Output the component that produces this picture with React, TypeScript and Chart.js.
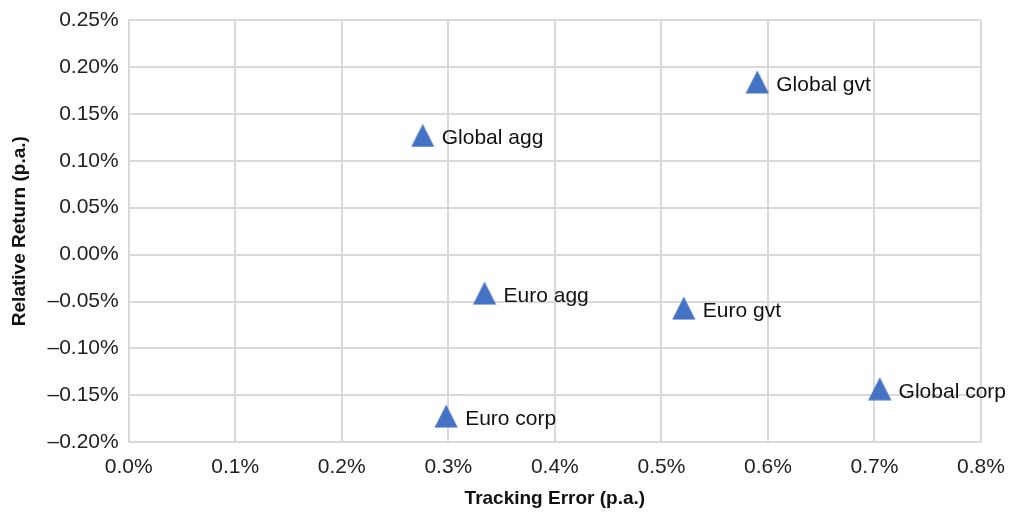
import React, { useEffect, useRef } from "react";
import { Chart, registerables } from "chart.js";

Chart.register(...registerables);

const names = ["Global gvt", "Global agg", "Euro agg", "Euro gvt", "Euro corp", "Global corp"];
const trackingError = [0.59, 0.276, 0.334, 0.521, 0.298, 0.705];
const relativeReturn = [0.184, 0.127, -0.041, -0.057, -0.172, -0.143];
const xTickValues = [0, 0.1, 0.2, 0.3, 0.4, 0.5, 0.6, 0.7, 0.8];
const yTickValues = [-0.2, -0.15, -0.1, -0.05, 0, 0.05, 0.1, 0.15, 0.2, 0.25];

const BLUE = "#4472C4";
const GRID = "#d9d9d9";
const FONT = "'Liberation Sans', Arial, sans-serif";

function makeTriangle(): HTMLCanvasElement {
  const c = document.createElement("canvas");
  c.width = 24;
  c.height = 24;
  const ctx = c.getContext("2d")!;
  ctx.fillStyle = BLUE;
  ctx.beginPath();
  ctx.moveTo(12, 0.5);
  ctx.lineTo(23.6, 23.6);
  ctx.lineTo(0.4, 23.6);
  ctx.closePath();
  ctx.fill();
  return c;
}

const fmtY = (v: number) => {
  const s = Math.abs(v).toFixed(2) + "%";
  return v < -1e-9 ? "\u2013" + s : s;
};

const labelPlugin = {
  id: "pointLabels",
  afterDatasetsDraw(chart: any) {
    const ctx = chart.ctx;
    const meta = chart.getDatasetMeta(0);
    ctx.save();
    ctx.font = `21px ${FONT}`;
    ctx.fillStyle = "#111";
    ctx.textBaseline = "middle";
    ctx.textAlign = "left";
    meta.data.forEach((pt: any, i: number) => {
      const text = names[i];
      const w = ctx.measureText(text).width;
      let x = pt.x + 19;
      if (x + w > chart.width - 4) x = chart.width - 4 - w;
      ctx.fillText(text, x, pt.y + 3);
    });
    ctx.restore();
  },
};

export default function App() {
  const ref = useRef<HTMLCanvasElement | null>(null);
  useEffect(() => {
    if (!ref.current) return;
    const tri = makeTriangle();
    const chart = new Chart(ref.current, {
      type: "scatter",
      data: {
        datasets: [
          {
            label: "Indices",
            data: trackingError.map((x, i) => ({ x, y: relativeReturn[i] })),
            pointStyle: tri as any,
            pointRadius: 12,
            backgroundColor: BLUE,
            borderColor: BLUE,
          },
        ],
      },
      options: {
        animation: false,
        responsive: false,
        maintainAspectRatio: false,
        layout: { padding: { top: 20, right: 29, left: 0, bottom: 0 } },
        plugins: { legend: { display: false }, tooltip: { enabled: false } },
        scales: {
          x: {
            type: "linear",
            min: 0,
            max: 0.8,
            afterBuildTicks: (s: any) => {
              s.ticks = xTickValues.map((v) => ({ value: v }));
            },
            afterFit: (s: any) => {
              s.height = 69.7;
              s.paddingLeft = 0;
              s.paddingRight = 0;
            },
            ticks: {
              padding: 12,
              color: "#222",
              font: { family: FONT, size: 21 },
              callback: (v: any) => Number(v).toFixed(1) + "%",
            },
            grid: { color: GRID, lineWidth: 2, drawTicks: false },
            border: { color: GRID, width: 2 },
            title: {
              display: true,
              text: "Tracking Error (p.a.)",
              color: "#111",
              font: { family: FONT, size: 19, weight: "bold" },
              padding: { top: 0, bottom: 2 },
            },
          },
          y: {
            type: "linear",
            min: -0.2,
            max: 0.25,
            afterBuildTicks: (s: any) => {
              s.ticks = yTickValues.map((v) => ({ value: v }));
            },
            afterFit: (s: any) => {
              s.width = 128.7;
              s.paddingTop = 0;
              s.paddingBottom = 0;
            },
            ticks: {
              padding: 10,
              color: "#222",
              font: { family: FONT, size: 21 },
              callback: (v: any) => fmtY(Number(v)),
            },
            grid: { color: GRID, lineWidth: 2, drawTicks: false },
            border: { color: GRID, width: 2 },
            title: {
              display: true,
              text: "Relative Return (p.a.)",
              color: "#111",
              font: { family: FONT, size: 19, weight: "bold" },
              padding: { top: 8, bottom: 0 },
            },
          },
        },
      },
      plugins: [labelPlugin],
    });
    return () => chart.destroy();
  }, []);
  return (
    <div style={{ position: "absolute", left: 0, top: 0, width: 1010, height: 512, background: "#fff" }}>
      <canvas ref={ref} width={1010} height={512} style={{ display: "block", width: 1010, height: 512 }} />
    </div>
  );
}
